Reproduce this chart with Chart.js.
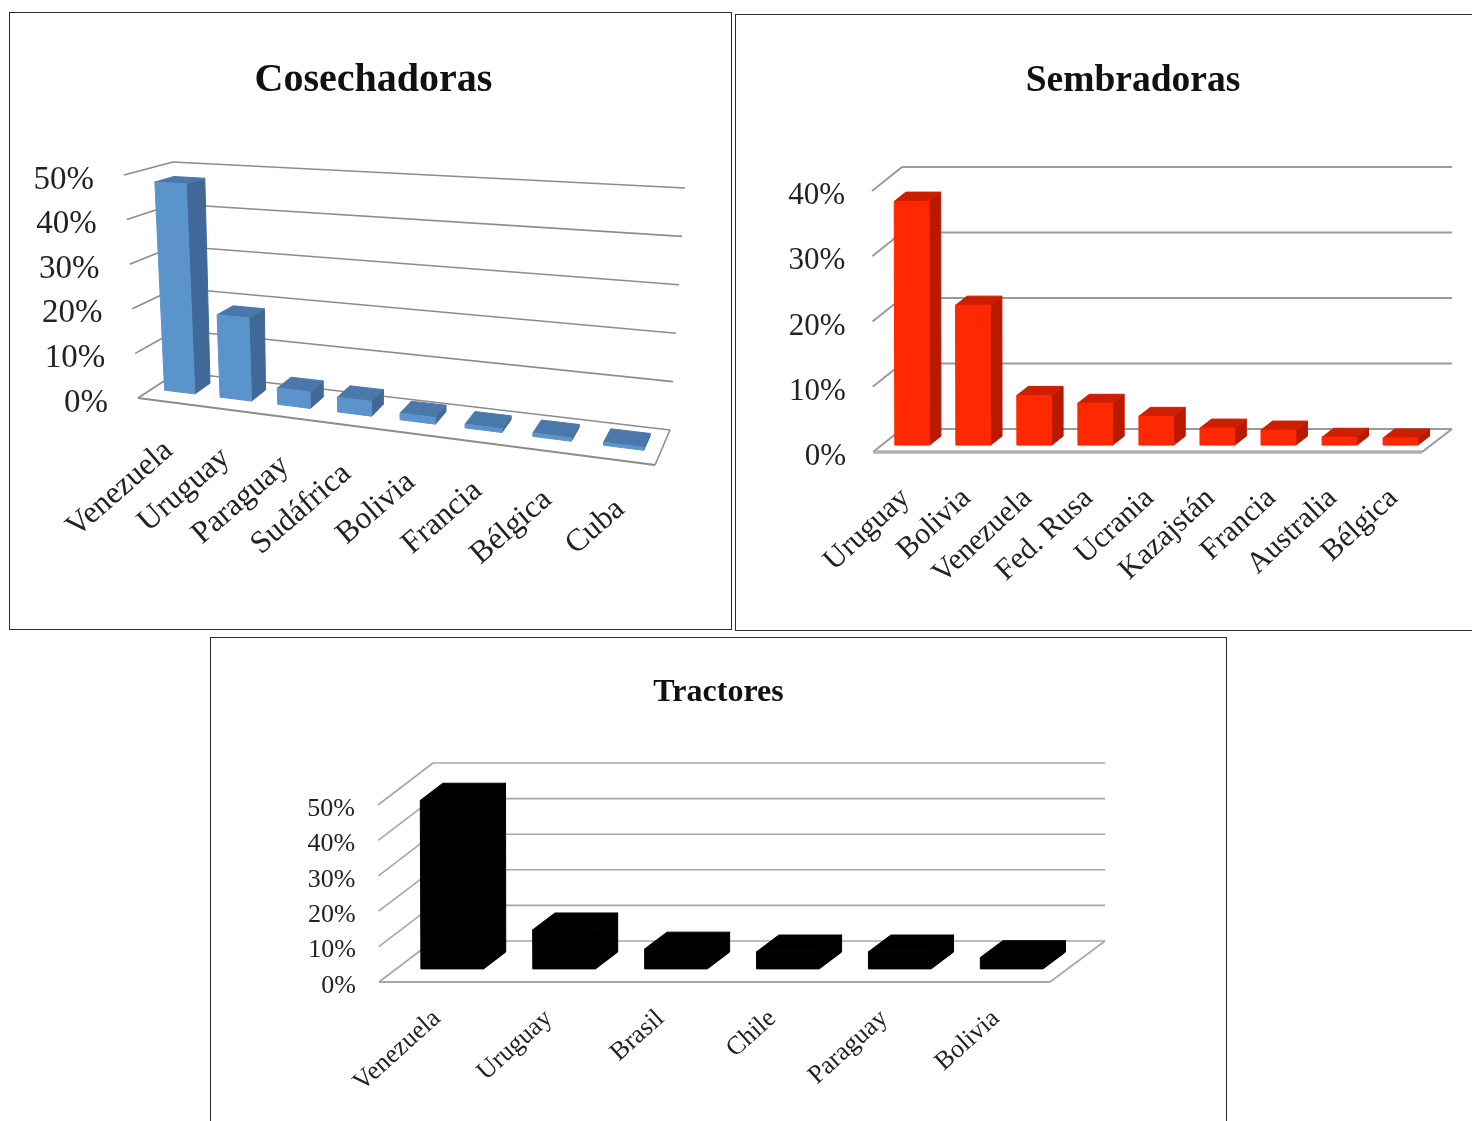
<!DOCTYPE html>
<html lang="es">
<head>
<meta charset="utf-8">
<title>Cosechadoras, Sembradoras, Tractores</title>
<script src="https://cdn.jsdelivr.net/npm/chart.js@4"></script>
<style>
  html, body { margin: 0; padding: 0; background: #fff; }
  body { position: relative; width: 1472px; height: 1121px; overflow: hidden; }
  .panel { position: absolute; border: 1px solid #2b2b2b; box-sizing: border-box; }
  canvas { position: absolute; filter: blur(0.6px); }
</style>
</head>
<body>
<div class="panel" style="left:9px;top:12px;width:723px;height:618px"></div>
<div class="panel" style="left:735px;top:14px;width:800px;height:617px"></div>
<div class="panel" style="left:210px;top:637px;width:1017px;height:520px"></div>
<canvas id="chartCosechadoras" width="727" height="617" style="left:10px;top:13px"></canvas>
<canvas id="chartSembradoras" width="794" height="616" style="left:736px;top:15px"></canvas>
<canvas id="chartTractores" width="1015" height="483" style="left:211px;top:638px"></canvas>
<script>
const cosechadorasLabels = ["Venezuela", "Uruguay", "Paraguay", "Sudáfrica", "Bolivia", "Francia", "Bélgica", "Cuba"];
const cosechadorasValues = [47.5, 18.5, 3.6, 3.2, 1.4, 0.8, 0.7, 0.6];

const sembradorasLabels = ["Uruguay", "Bolivia", "Venezuela", "Fed. Rusa", "Ucrania", "Kazajstán", "Francia", "Australia", "Bélgica"];
const sembradorasValues = [37.3, 21.4, 7.6, 6.4, 4.4, 2.6, 2.3, 1.2, 1.1];

const tractoresLabels = ["Venezuela", "Uruguay", "Brasil", "Chile", "Paraguay", "Bolivia"];
const tractoresValues = [47.5, 11, 5.6, 4.8, 4.8, 3.2];

// u = along categories, v = along values, w = depth (0 front, 1 back)
// box.persp < 1 squeezes the left of the box, for the tilted chart
function project(box, u, v, w) {
  const mix = (a, b, t) => [a[0] + (b[0] - a[0]) * t, a[1] + (b[1] - a[1]) * t];
  const p = box.persp || 1;
  const s = p * u / (1 - (1 - p) * u);
  const front = mix(mix(box.fl0, box.fr0, s), mix(box.fl1, box.fr1, s), v);
  const back = mix(mix(box.bl0, box.br0, s), mix(box.bl1, box.br1, s), v);
  return mix(front, back, w);
}

function poly(ctx, pts, fill) {
  ctx.beginPath();
  pts.forEach((p, i) => (i ? ctx.lineTo(p[0], p[1]) : ctx.moveTo(p[0], p[1])));
  ctx.closePath();
  ctx.fillStyle = fill;
  ctx.strokeStyle = fill;
  ctx.lineWidth = 1;
  ctx.fill();
  ctx.stroke();
}

function segment(ctx, a, b) {
  ctx.beginPath();
  ctx.moveTo(a[0], a[1]);
  ctx.lineTo(b[0], b[1]);
  ctx.stroke();
}

// Bars and axes come from the chart's own scales, then go through the box projection
const box3d = {
  id: "box3d",
  afterDatasetsDraw(chart, args, o) {
    const { ctx, chartArea: area, scales } = chart;
    const box = o.box;
    const yScale = scales.y;
    const vOf = (px) => (area.bottom - px) / area.height;
    const uOf = (px) => (px - area.left) / area.width;
    const at = (u, v, w) => project(box, u, v, w);

    ctx.save();
    ctx.translate(-o.left, -o.top);

    // walls and floor
    ctx.strokeStyle = o.gridColor;
    ctx.lineWidth = o.gridWidth;
    ctx.lineJoin = "round";
    yScale.ticks.forEach((t) => {
      const v = vOf(yScale.getPixelForValue(t.value));
      segment(ctx, at(0, v, 0), at(0, v, 1));
      segment(ctx, at(0, v, 1), at(1, v, 1));
    });
    segment(ctx, at(1, 0, 1), at(1, 0, 0));
    ctx.strokeStyle = o.floorColor;
    ctx.lineWidth = o.floorWidth;
    segment(ctx, at(0, 0, 0), at(1, 0, 0));

    // bars, left to right
    const bars = chart.getDatasetMeta(0).data;
    bars.forEach((bar) => {
      const u0 = uOf(bar.x - bar.width / 2);
      const u1 = uOf(bar.x + bar.width / 2);
      const v0 = vOf(bar.base);
      const v1 = vOf(bar.y);
      const w0 = o.depth[0];
      const w1 = o.depth[1];
      poly(ctx, [at(u1, v0, w0), at(u1, v0, w1), at(u1, v1, w1), at(u1, v1, w0)], o.colors.side);
      poly(ctx, [at(u0, v1, w0), at(u1, v1, w0), at(u1, v1, w1), at(u0, v1, w1)], o.colors.top);
      poly(ctx, [at(u0, v0, w0), at(u1, v0, w0), at(u1, v1, w0), at(u0, v1, w0)], o.colors.front);
    });

    // tick labels
    ctx.fillStyle = "#222";
    ctx.textAlign = "right";
    ctx.textBaseline = "middle";
    ctx.font = o.yFont + 'px "Liberation Serif"';
    yScale.ticks.forEach((t) => {
      const p = at(0, vOf(yScale.getPixelForValue(t.value)), 0);
      ctx.fillText(t.label, p[0] + o.yOffset[0], p[1] + o.yOffset[1]);
    });
    ctx.font = o.xFont + 'px "Liberation Serif"';
    bars.forEach((bar, i) => {
      const p = at(uOf(bar.x), 0, 0);
      ctx.save();
      ctx.translate(p[0] + o.xOffset[0], p[1] + o.xOffset[1]);
      ctx.rotate(-o.xAngle * Math.PI / 180);
      ctx.fillText(chart.data.labels[i], 0, 0);
      ctx.restore();
    });
    ctx.restore();
  },
};

function makeChart(canvasId, labels, values, maxValue, titleText, titleSize, titlePad, barPct, opts) {
  new Chart(document.getElementById(canvasId), {
    type: "bar",
    data: {
      labels,
      datasets: [{
        data: values,
        backgroundColor: "transparent",
        barPercentage: barPct,
        categoryPercentage: 1,
      }],
    },
    options: {
      responsive: false,
      animation: false,
      plugins: {
        legend: { display: false },
        tooltip: { enabled: false },
        title: {
          display: true,
          text: titleText,
          color: "#111",
          font: { family: "Liberation Serif", size: titleSize, weight: "bold" },
          padding: { top: titlePad, bottom: 0 },
        },
        box3d: opts,
      },
      scales: {
        x: { display: false },
        y: {
          display: false,
          min: 0,
          max: maxValue,
          ticks: { stepSize: 10, callback: (v) => v + "%" },
        },
      },
    },
    plugins: [box3d],
  });
}

makeChart("chartCosechadoras", cosechadorasLabels, cosechadorasValues, 50, "Cosechadoras", 40, 44, 0.55, {
  left: 10, top: 13,
  box: {
    persp: 0.85,
    fl0: [138, 398], fr0: [655, 465], bl0: [178, 372], br0: [670, 430],
    fl1: [124, 175], fr1: [661, 210], bl1: [173, 162], br1: [685, 188],
  },
  depth: [0.36, 0.76],
  colors: { front: "#5b94cb", side: "#40699a", top: "#4a78aa" },
  gridColor: "#8c8c8c", gridWidth: 1.6, floorColor: "#8c8c8c", floorWidth: 2,
  yFont: 33, yOffset: [-30, 5],
  xFont: 31.5, xOffset: [3, 45], xAngle: 41,
});

makeChart("chartSembradoras", sembradorasLabels, sembradorasValues, 40, "Sembradoras", 37.5, 44, 0.57, {
  left: 736, top: 15,
  box: {
    fl0: [873, 452], fr0: [1422, 452], bl0: [902, 429], br0: [1452, 429],
    fl1: [872, 191], fr1: [1422, 191], bl1: [902, 167], br1: [1452, 167],
  },
  depth: [0.3, 0.69],
  colors: { front: "#ff2800", side: "#b81a00", top: "#cc1f00" },
  gridColor: "#9a9a9a", gridWidth: 2, floorColor: "#b0b0b0", floorWidth: 3.5,
  yFont: 31, yOffset: [-27, 5],
  xFont: 30, xOffset: [2, 42], xAngle: 43,
});

makeChart("chartTractores", tractoresLabels, tractoresValues, 50, "Tractores", 32, 36, 0.56, {
  left: 211, top: 638,
  box: {
    fl0: [379, 982], fr0: [1050, 982], bl0: [433, 941], br0: [1105, 941],
    fl1: [378, 805], fr1: [1050, 805], bl1: [433, 763], br1: [1105, 763],
  },
  depth: [0.32, 0.73],
  colors: { front: "#000", side: "#000", top: "#000" },
  gridColor: "#a6a6a6", gridWidth: 1.6, floorColor: "#a6a6a6", floorWidth: 1.8,
  yFont: 26, yOffset: [-23, 4],
  xFont: 26, xOffset: [2, 33], xAngle: 42,
});
</script>
</body>
</html>
